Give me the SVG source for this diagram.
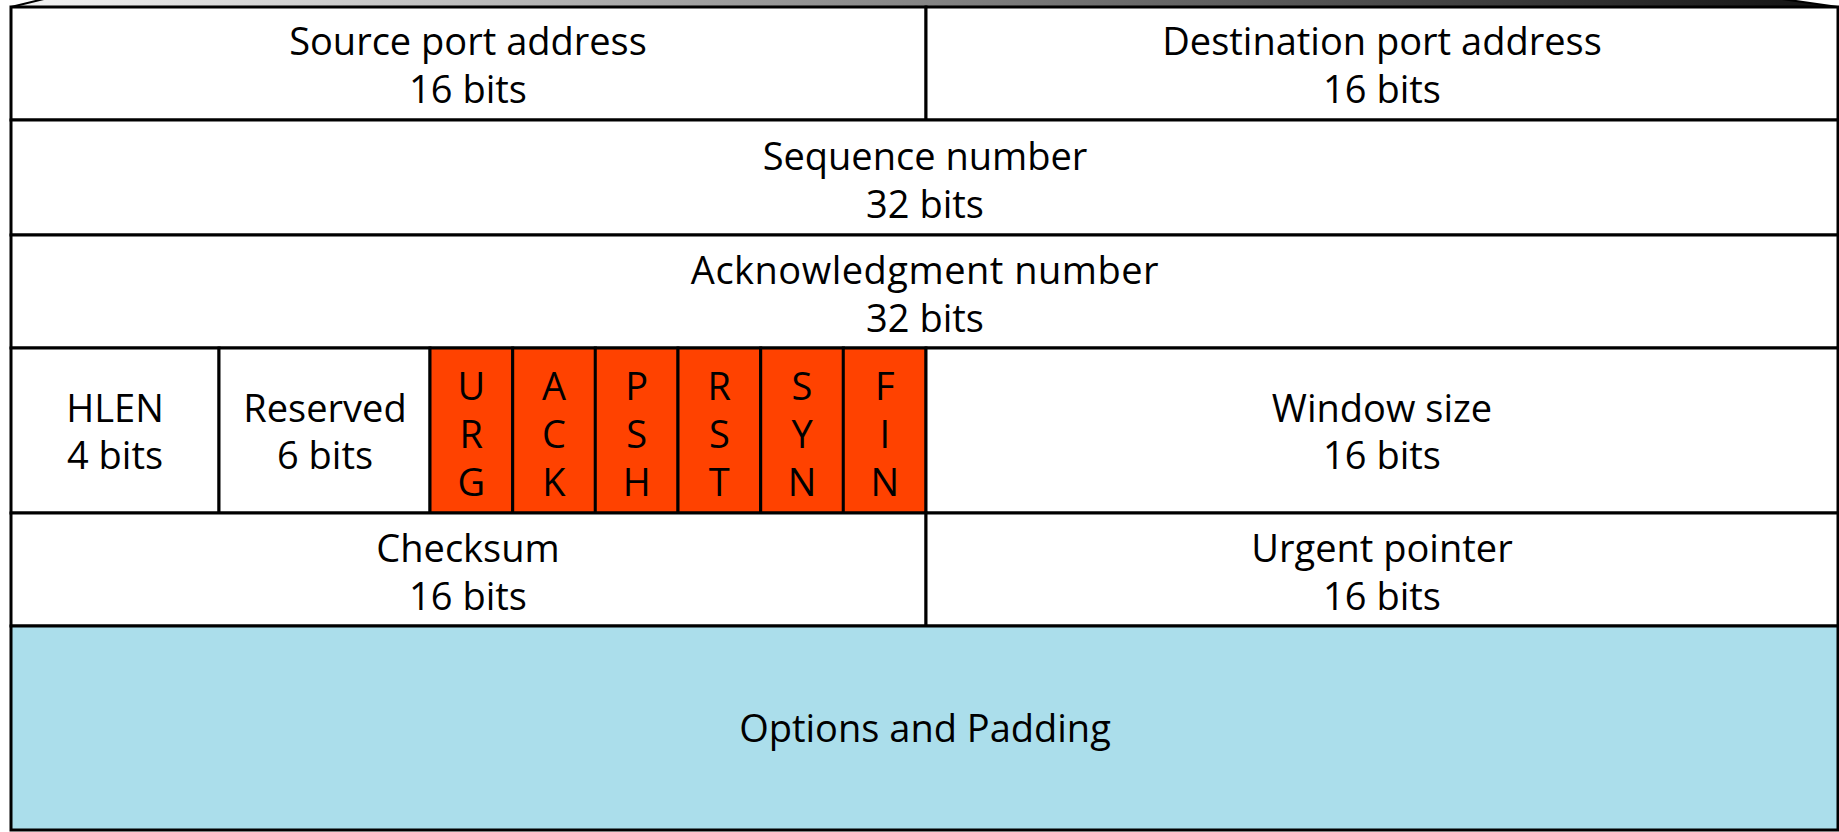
<svg xmlns="http://www.w3.org/2000/svg" width="1839" height="832" viewBox="0 0 1839 832">
  <style>
    .cell { fill: #ffffff; stroke: #000000; stroke-width: 3; }
    .flag { fill: #ff4200; stroke: #000000; stroke-width: 3; }
    .opts { fill: #abdeeb; stroke: #000000; stroke-width: 3; }
    .lbl { font-family: "Open Sans", "Liberation Sans", sans-serif; font-size: 38px; fill: #000000; text-anchor: middle; }
  </style>
  <defs>
    <linearGradient id="lidShade" x1="11" y1="0" x2="1838" y2="0" gradientUnits="userSpaceOnUse">
      <stop offset="0" stop-color="#f4f4f4"/>
      <stop offset="0.5" stop-color="#858585"/>
      <stop offset="1" stop-color="#111111"/>
    </linearGradient>
  </defs>

  <rect width="1839" height="832" fill="#ffffff"/>

  <!-- top face of the header block -->
  <polygon id="lid" points="11,7 48,-2 1775,-2 1838,7" fill="url(#lidShade)" stroke="#000000" stroke-width="2"/>

  <!-- row 1 -->
  <g id="source-port">
    <rect class="cell" x="11" y="7" width="915" height="113"/>
    <text class="lbl" x="468" y="55">Source port address</text>
    <text class="lbl" x="468" y="103">16 bits</text>
  </g>
  <g id="destination-port">
    <rect class="cell" x="926" y="7" width="912" height="113"/>
    <text class="lbl" x="1382" y="55">Destination port address</text>
    <text class="lbl" x="1382" y="103">16 bits</text>
  </g>

  <!-- row 2 -->
  <g id="sequence-number">
    <rect class="cell" x="11" y="120" width="1827" height="115"/>
    <text class="lbl" x="925" y="170">Sequence number</text>
    <text class="lbl" x="925" y="218">32 bits</text>
  </g>

  <!-- row 3 -->
  <g id="acknowledgment-number">
    <rect class="cell" x="11" y="235" width="1827" height="113"/>
    <text class="lbl" x="925" y="284" letter-spacing="0.5">Acknowledgment number</text>
    <text class="lbl" x="925" y="332">32 bits</text>
  </g>

  <!-- row 4 -->
  <g id="hlen">
    <rect class="cell" x="11" y="348" width="208" height="165"/>
    <text class="lbl" x="115" y="422">HLEN</text>
    <text class="lbl" x="115" y="469">4 bits</text>
  </g>
  <g id="reserved">
    <rect class="cell" x="219" y="348" width="211" height="165"/>
    <text class="lbl" x="325" y="422">Reserved</text>
    <text class="lbl" x="325" y="469">6 bits</text>
  </g>
  <g id="flag-urg">
    <rect class="flag" x="430" y="348" width="82.7" height="165"/>
    <text class="lbl" x="471.3" y="400">U</text>
    <text class="lbl" x="471.3" y="448">R</text>
    <text class="lbl" x="471.3" y="496">G</text>
  </g>
  <g id="flag-ack">
    <rect class="flag" x="512.7" y="348" width="82.7" height="165"/>
    <text class="lbl" x="554" y="400">A</text>
    <text class="lbl" x="554" y="448">C</text>
    <text class="lbl" x="554" y="496">K</text>
  </g>
  <g id="flag-psh">
    <rect class="flag" x="595.3" y="348" width="82.7" height="165"/>
    <text class="lbl" x="636.7" y="400">P</text>
    <text class="lbl" x="636.7" y="448">S</text>
    <text class="lbl" x="636.7" y="496">H</text>
  </g>
  <g id="flag-rst">
    <rect class="flag" x="678" y="348" width="82.7" height="165"/>
    <text class="lbl" x="719.3" y="400">R</text>
    <text class="lbl" x="719.3" y="448">S</text>
    <text class="lbl" x="719.3" y="496">T</text>
  </g>
  <g id="flag-syn">
    <rect class="flag" x="760.7" y="348" width="82.7" height="165"/>
    <text class="lbl" x="802" y="400">S</text>
    <text class="lbl" x="802" y="448">Y</text>
    <text class="lbl" x="802" y="496">N</text>
  </g>
  <g id="flag-fin">
    <rect class="flag" x="843.3" y="348" width="82.7" height="165"/>
    <text class="lbl" x="884.7" y="400">F</text>
    <text class="lbl" x="884.7" y="448">I</text>
    <text class="lbl" x="884.7" y="496">N</text>
  </g>
  <g id="window-size">
    <rect class="cell" x="926" y="348" width="912" height="165"/>
    <text class="lbl" x="1382" y="422">Window size</text>
    <text class="lbl" x="1382" y="469">16 bits</text>
  </g>

  <!-- row 5 -->
  <g id="checksum">
    <rect class="cell" x="11" y="513" width="915" height="113"/>
    <text class="lbl" x="468" y="562">Checksum</text>
    <text class="lbl" x="468" y="610">16 bits</text>
  </g>
  <g id="urgent-pointer">
    <rect class="cell" x="926" y="513" width="912" height="113"/>
    <text class="lbl" x="1382" y="562">Urgent pointer</text>
    <text class="lbl" x="1382" y="610">16 bits</text>
  </g>

  <!-- row 6 -->
  <g id="options-padding">
    <rect class="opts" x="11" y="626" width="1827" height="204"/>
    <text class="lbl" x="925" y="742">Options and Padding</text>
  </g>
</svg>
